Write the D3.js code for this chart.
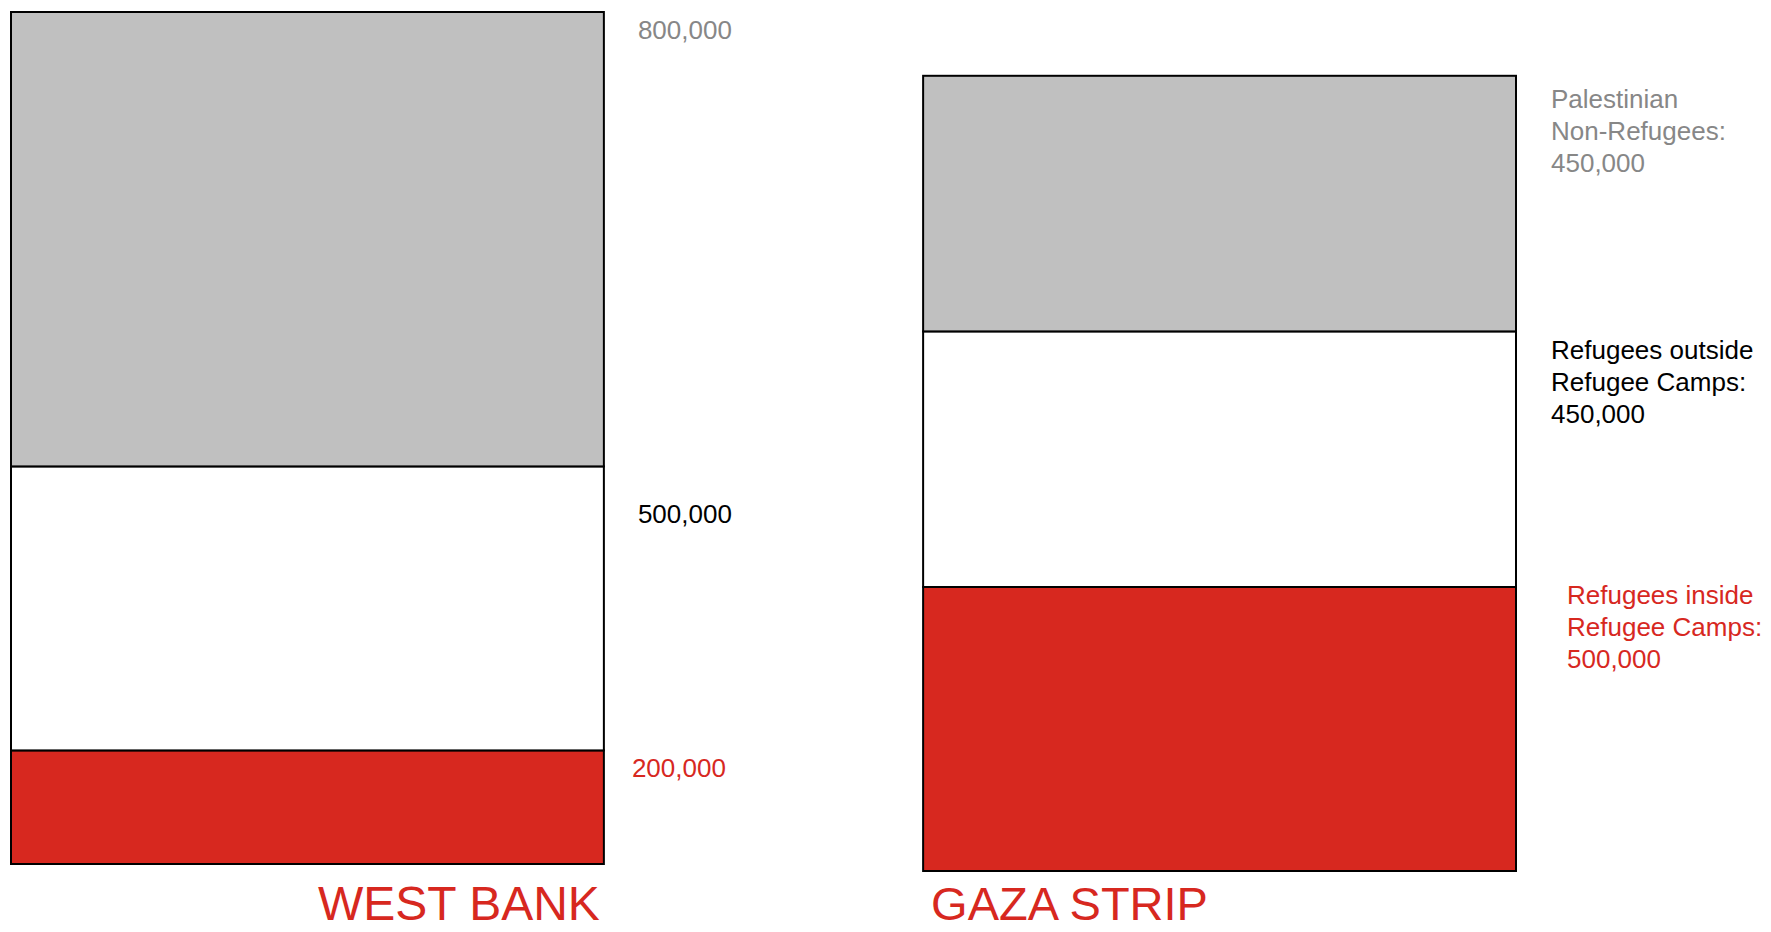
<!DOCTYPE html>
<html>
<head>
<meta charset="utf-8">
<script src="https://cdn.jsdelivr.net/npm/d3@7"></script>
<style>
  html, body { margin: 0; padding: 0; background: #fff; }
  svg { display: block; font-family: "Liberation Sans", Arial, sans-serif; }
</style>
</head>
<body>
<div id="chart"></div>
<script>
"use strict";

// regions and their population segments (bottom to top)
var regions = ["WEST BANK", "GAZA STRIP"];
var segments = ["inside", "outside", "non"];
var westBank = [200000, 500000, 800000];
var gazaStrip = [500000, 450000, 450000];

var westBankLabels = [["200,000"], ["500,000"], ["800,000"]];
var gazaLabels = [
  ["Refugees inside", "Refugee Camps:", "500,000"],
  ["Refugees outside", "Refugee Camps:", "450,000"],
  ["Palestinian", "Non-Refugees:", "450,000"]
];

var fills = { inside: "#d7281f", outside: "#ffffff", non: "#c0c0c0" };
var textColors = { inside: "#d7281f", outside: "#000000", non: "#878787" };

var width = 1771, height = 932;

var svg = d3.select("#chart").append("svg")
  .attr("width", width)
  .attr("height", height);

var x = d3.scaleBand()
  .domain(regions)
  .range([11, 1516])
  .paddingInner(0.35)
  .paddingOuter(0);

// pixel height per person, shared by both stacks
var h = d3.scaleLinear()
  .domain([0, 1500000])
  .range([0, 852]);

var bottoms = { "WEST BANK": 864, "GAZA STRIP": 871 };
var labelDx = {
  "WEST BANK": { inside: 28, outside: 34, non: 34 },
  "GAZA STRIP": { inside: 51, outside: 35, non: 35 }
};
var labelDy = {
  "WEST BANK": { inside: 27, outside: 57, non: 27 },
  "GAZA STRIP": { inside: 17, outside: 28, non: 32 }
};

function stack(values) {
  var y0 = 0;
  return values.map(function (v, i) {
    var d = { key: segments[i], value: v, y0: y0, y1: y0 + v };
    y0 += v;
    return d;
  });
}

var data = [
  { region: "WEST BANK", parts: stack(westBank), labels: westBankLabels },
  { region: "GAZA STRIP", parts: stack(gazaStrip), labels: gazaLabels }
];

data.forEach(function (r) {
  var g = svg.append("g");
  var base = bottoms[r.region];
  var x0 = x(r.region), bw = x.bandwidth();

  g.selectAll("rect")
    .data(r.parts)
    .join("rect")
    .attr("x", x0)
    .attr("y", function (d) { return base - h(d.y1); })
    .attr("width", bw)
    .attr("height", function (d) { return h(d.value); })
    .attr("fill", function (d) { return fills[d.key]; })
    .attr("stroke", "#000")
    .attr("stroke-width", 2);

  g.selectAll("text.lbl")
    .data(r.parts)
    .join("text")
    .attr("class", "lbl")
    .attr("x", function (d) { return x0 + bw + labelDx[r.region][d.key]; })
    .attr("y", function (d) { return base - h(d.y1) + labelDy[r.region][d.key]; })
    .attr("fill", function (d) { return textColors[d.key]; })
    .attr("font-size", 26)
    .each(function (d, i) {
      var t = d3.select(this);
      r.labels[i].forEach(function (line, j) {
        t.append("tspan")
          .attr("x", t.attr("x"))
          .attr("dy", j === 0 ? 0 : 32)
          .text(line);
      });
    });
});

svg.append("text")
  .attr("x", x("WEST BANK") + x.bandwidth() - 4)
  .attr("y", 920)
  .attr("text-anchor", "end")
  .attr("fill", "#d7281f")
  .attr("font-size", 48)
  .text("WEST BANK");

svg.append("text")
  .attr("x", x("GAZA STRIP") + 8)
  .attr("y", 920)
  .attr("fill", "#d7281f")
  .attr("font-size", 47)
  .text("GAZA STRIP");
</script>
</body>
</html>
